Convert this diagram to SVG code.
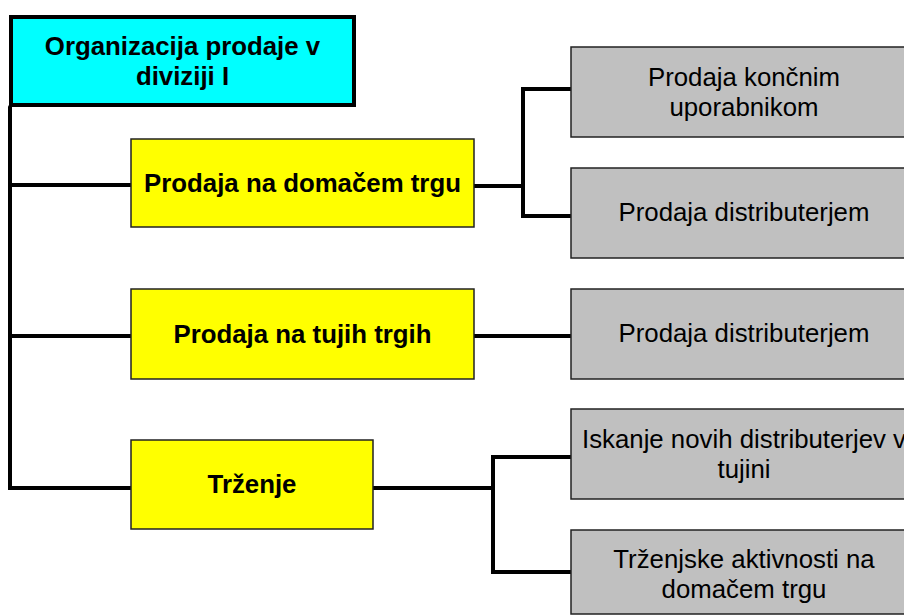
<svg xmlns="http://www.w3.org/2000/svg" width="904" height="615" viewBox="0 0 904 615">
  <style>
    .root { fill: #00FFFF; stroke: #000; stroke-width: 4; }
    .unit { fill: #FFFF00; stroke: #222; stroke-width: 1.5; }
    .task { fill: #C0C0C0; stroke: #222; stroke-width: 1.5; }
    .bold { font-family: "Liberation Sans", Arial, sans-serif; font-size: 25.8px; font-weight: bold; fill: #000; text-anchor: middle; }
    .reg { font-family: "Liberation Sans", Arial, sans-serif; font-size: 25.8px; fill: #000; text-anchor: middle; }
    .link { fill: none; stroke: #000; stroke-width: 4; stroke-linecap: round; stroke-linejoin: miter; }
  </style>
  <rect width="904" height="615" fill="#fff"/>

  <g id="connectors">
    <!-- main trunk from the division head -->
    <path class="link" d="M10,107 V488 H131"/>
    <path class="link" d="M10,185 H131"/>
    <path class="link" d="M10,336 H131"/>
    <!-- domestic market branch -->
    <path class="link" d="M474,186 H523"/>
    <path class="link" d="M571,89 H523 V216 H571"/>
    <!-- foreign market branch -->
    <path class="link" d="M474,336 H571"/>
    <!-- marketing branch -->
    <path class="link" d="M373,488 H493"/>
    <path class="link" d="M571,457 H493 V572 H571"/>
  </g>

  <g id="node-root">
    <rect class="root" x="11" y="17" width="343" height="88"/>
    <text class="bold" x="182.5" y="55">Organizacija prodaje v</text>
    <text class="bold" x="182.5" y="85">diviziji I</text>
  </g>

  <g id="node-domaci">
    <rect class="unit" x="131" y="139" width="343" height="88"/>
    <text class="bold" x="302.5" y="192">Prodaja na domačem trgu</text>
  </g>

  <g id="node-tuji">
    <rect class="unit" x="131" y="289" width="343" height="90"/>
    <text class="bold" x="302.5" y="343">Prodaja na tujih trgih</text>
  </g>

  <g id="node-trzenje">
    <rect class="unit" x="131" y="440" width="242" height="89"/>
    <text class="bold" x="252" y="493">Trženje</text>
  </g>

  <g id="node-koncni">
    <rect class="task" x="571" y="47" width="346" height="90"/>
    <text class="reg" x="744" y="86">Prodaja končnim</text>
    <text class="reg" x="744" y="116">uporabnikom</text>
  </g>

  <g id="node-distributerji-1">
    <rect class="task" x="571" y="168" width="346" height="90"/>
    <text class="reg" x="744" y="221">Prodaja distributerjem</text>
  </g>

  <g id="node-distributerji-2">
    <rect class="task" x="571" y="289" width="346" height="90"/>
    <text class="reg" x="744" y="342">Prodaja distributerjem</text>
  </g>

  <g id="node-iskanje">
    <rect class="task" x="571" y="409" width="346" height="90"/>
    <text class="reg" x="744" y="448">Iskanje novih distributerjev v</text>
    <text class="reg" x="744" y="478">tujini</text>
  </g>

  <g id="node-aktivnosti">
    <rect class="task" x="571" y="530" width="346" height="84"/>
    <text class="reg" x="744" y="568">Trženjske aktivnosti na</text>
    <text class="reg" x="744" y="598">domačem trgu</text>
  </g>
</svg>
